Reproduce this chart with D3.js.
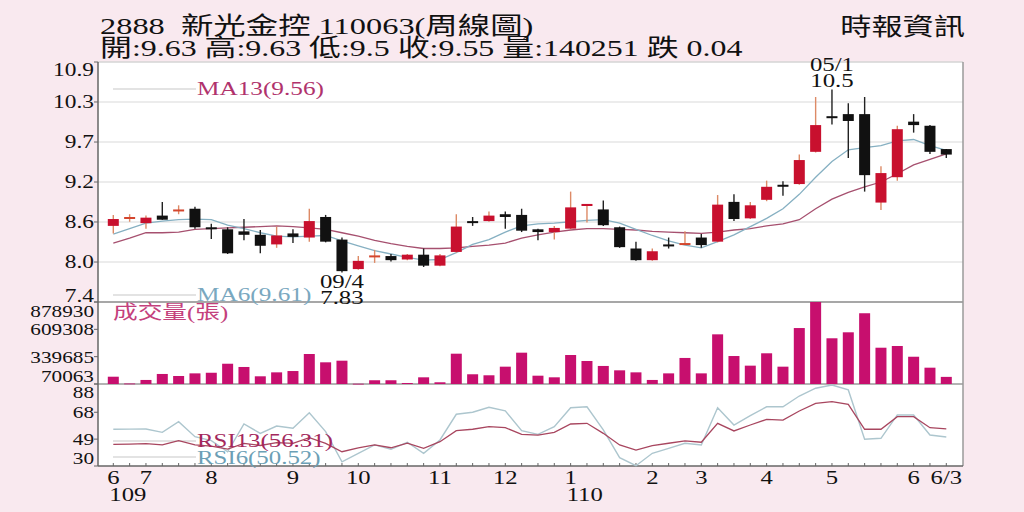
<!DOCTYPE html>
<html><head><meta charset="utf-8">
<script src="https://cdn.jsdelivr.net/npm/d3@7"></script>
<style>
html,body{margin:0;padding:0;background:#f9e9ef;}
svg{display:block;font-family:'Liberation Serif','DejaVu Serif','Noto Sans CJK TC',serif;}
text{white-space:pre;}
</style>
</head><body>
<svg id="chart" width="1024" height="512"></svg>
<script>
// ---------- DATA (weekly candles, 109/6 .. 110/6/3) ----------
const opens  = [8.51,8.62,8.55,8.66,8.73,8.76,8.48,8.46,8.43,8.38,8.24,8.40,8.34,8.64,8.31,7.88,8.06,8.07,8.02,8.09,7.93,8.13,8.57,8.58,8.68,8.67,8.46,8.42,8.47,8.80,8.75,8.49,8.18,8.01,8.23,8.24,8.34,8.28,8.86,8.62,8.89,9.10,9.12,9.59,10.10,10.14,10.14,8.85,9.22,10.03,9.97,9.63];
const highs  = [8.67,8.68,8.66,8.86,8.81,8.79,8.54,8.49,8.61,8.45,8.50,8.46,8.76,8.67,8.34,8.07,8.16,8.10,8.10,8.18,8.10,8.68,8.64,8.72,8.72,8.76,8.47,8.51,9.01,8.83,8.88,8.50,8.28,8.18,8.34,8.43,8.39,8.96,8.97,8.86,9.17,9.16,9.55,10.39,10.50,10.30,10.39,9.38,9.97,10.14,9.98,9.63];
const lows   = [8.40,8.57,8.47,8.60,8.68,8.47,8.32,8.10,8.30,8.11,8.19,8.26,8.28,8.27,7.83,7.87,7.97,7.99,8.01,7.91,7.92,8.12,8.51,8.57,8.47,8.42,8.30,8.31,8.46,8.56,8.51,8.19,8.00,8.00,8.18,8.23,8.19,8.27,8.58,8.61,8.87,8.95,9.11,9.58,9.99,9.50,9.01,8.74,9.17,9.87,9.56,9.50];
const closes = [8.61,8.63,8.63,8.60,8.74,8.49,8.47,8.11,8.38,8.22,8.37,8.35,8.58,8.28,7.85,8.00,8.07,8.01,8.09,7.93,8.08,8.50,8.56,8.66,8.64,8.44,8.42,8.48,8.78,8.83,8.52,8.20,8.01,8.14,8.22,8.25,8.23,8.82,8.61,8.81,9.08,9.09,9.47,9.98,10.09,10.04,9.25,9.28,9.92,9.98,9.59,9.55];
const volumes = [142000,75000,110000,169000,149000,175000,181000,270000,238000,146000,185000,198000,366000,284000,300000,73000,107000,107000,80000,136000,87000,369000,166000,156000,241000,379000,152000,136000,356000,297000,248000,205000,185000,110000,175000,327000,175000,560000,346000,251000,373000,241000,622000,878930,521000,580000,768000,428000,445000,339000,231000,140251];
const ma6  = [8.39,8.47,8.55,8.58,8.60,8.61,8.60,8.52,8.47,8.41,8.36,8.35,8.36,8.37,8.29,8.22,8.15,8.10,8.05,8.01,8.02,8.12,8.24,8.31,8.42,8.51,8.54,8.55,8.57,8.59,8.60,8.55,8.46,8.37,8.29,8.23,8.19,8.28,8.38,8.50,8.62,8.76,8.97,9.22,9.45,9.62,9.65,9.68,9.75,9.77,9.68,9.61];
const ma13 = [8.26,8.33,8.41,8.41,8.42,8.46,8.47,8.48,8.49,8.50,8.51,8.50,8.48,8.46,8.41,8.36,8.30,8.25,8.21,8.18,8.18,8.19,8.21,8.23,8.26,8.33,8.38,8.42,8.45,8.47,8.47,8.46,8.45,8.43,8.42,8.41,8.40,8.42,8.45,8.47,8.51,8.54,8.60,8.76,8.90,9.00,9.08,9.15,9.27,9.40,9.48,9.56];
const rsi6  = [56.0,56.1,56.2,53.8,61.3,50.7,48.0,40.0,59.7,53.1,58.3,56.7,67.7,54.3,33.0,39.0,44.9,41.8,46.8,39.0,48.4,66.6,68.0,71.5,69.0,55.0,52.4,57.8,71.2,71.9,55.5,35.9,30.2,39.0,42.5,46.1,44.9,71.2,59.0,65.6,71.9,71.9,79.5,85.0,87.3,83.8,48.9,49.6,66.1,66.1,51.9,50.52];
const rsi13 = [45.3,45.5,45.8,44.9,47.9,44.9,44.0,42.0,46.0,44.5,46.5,46.0,50.0,46.0,40.1,42.9,44.9,42.9,46.1,42.5,47.2,55.0,56.0,57.8,57.1,52.4,51.9,53.8,59.7,60.2,53.1,44.9,41.3,44.4,46.1,47.7,46.8,60.2,54.8,59.0,63.0,62.5,68.9,74.3,75.5,73.6,56.0,56.0,64.9,64.9,57.1,56.31];

const monthTickIdx = [0,2,6,11,15,20,24,28,33,36,40,44,49,51];
const monthLabels  = ["6","7","8","9","10","11","12","1","2","3","4","5","6","6/3"];
const yearTickIdx  = [0,28];
const yearLabels   = ["109","110"];
const priceTicks      = [7.4,7.983,8.567,9.15,9.733,10.317,10.9];
const priceTickLabels = ["7.4","8.0","8.6","9.2","9.7","10.3","10.9"];
const volTicks  = [70063,339685,609308,878930];
const rsiTicks  = [30,49,68,88];

const titleText = "2888  新光金控 110063(周線圖)";
const infoText  = "開:9.63 高:9.63 低:9.5 收:9.55 量:140251 跌 0.04";
const sourceText = "時報資訊";

// ---------- LAYOUT ----------
const L = 98, R = 963;
const P = {top:62, bottom:302};
const V = {top:302, bottom:384};
const S = {top:384, bottom:466};
const SX = 1.3;

const svg = d3.select("#chart");
const idx = d3.range(closes.length);

const x = d3.scaleLinear().domain([0, closes.length-1]).range([113.3, 946.3]);
const yP = d3.scaleLinear().domain([7.4, 10.9]).range([P.bottom, P.top]);
const yV = d3.scaleLinear().domain([70063, 878930]).range([V.bottom, V.top]);
const yR = d3.scaleLinear().domain([30, 88]).range([S.bottom, S.top]);

function label(sel, px, py, str, o={}) {
  const t = sel.append("text")
    .attr("transform", `translate(${px},${py}) scale(${o.sx||SX},1)`)
    .attr("text-anchor", o.anchor || "start")
    .attr("font-size", o.size || 18)
    .attr("fill", o.fill || "#111")
    .text(str);
  if (o.dy) t.attr("dy", o.dy);
  return t;
}

// plot background
svg.append("rect").attr("x", L).attr("y", P.top).attr("width", R-L).attr("height", S.bottom-P.top).attr("fill", "#fff");

// price grid
const grid = svg.append("g");
priceTicks.slice(1, -1).forEach(v => {
  grid.append("line").attr("x1", L).attr("x2", R).attr("y1", yP(v)).attr("y2", yP(v))
    .attr("stroke", "#d9d9d9").attr("stroke-width", 1.2);
});

// frame
svg.append("line").attr("x1", L).attr("x2", R).attr("y1", P.top).attr("y2", P.top).attr("stroke", "#d4d4d4").attr("stroke-width", 1.5);
svg.append("line").attr("x1", L).attr("x2", R).attr("y1", P.bottom).attr("y2", P.bottom).attr("stroke", "#8a8a8a").attr("stroke-width", 1.5);
svg.append("line").attr("x1", L).attr("x2", R).attr("y1", V.bottom).attr("y2", V.bottom).attr("stroke", "#9a9a9a").attr("stroke-width", 1.5);
svg.append("line").attr("x1", R).attr("x2", R).attr("y1", P.top).attr("y2", S.bottom).attr("stroke", "#9a9a9a").attr("stroke-width", 1.5);
svg.append("line").attr("x1", L).attr("x2", L).attr("y1", P.top).attr("y2", S.bottom).attr("stroke", "#666").attr("stroke-width", 1.5);
svg.append("line").attr("x1", L).attr("x2", R).attr("y1", S.bottom).attr("y2", S.bottom).attr("stroke", "#666").attr("stroke-width", 1.5);

// y tick labels
function clamp(v, a, b){ return Math.max(a, Math.min(b, v)); }
const yAx = svg.append("g");
priceTicks.forEach((v, i) => {
  yAx.append("line").attr("x1", L-4).attr("x2", L).attr("y1", yP(v)).attr("y2", yP(v)).attr("stroke", "#666");
  label(yAx, 94, clamp(yP(v), P.top+8, P.bottom-6), priceTickLabels[i], {anchor:"end", size:18, dy:"0.35em"});
});
volTicks.forEach(v => {
  yAx.append("line").attr("x1", L-4).attr("x2", L).attr("y1", yV(v)).attr("y2", yV(v)).attr("stroke", "#666");
  label(yAx, 94, clamp(yV(v), V.top+9, V.bottom-8), String(v), {anchor:"end", size:17, sx:1.25, dy:"0.35em"});
});
rsiTicks.forEach(v => {
  yAx.append("line").attr("x1", L-4).attr("x2", L).attr("y1", yR(v)).attr("y2", yR(v)).attr("stroke", "#666");
  label(yAx, 94, clamp(yR(v), S.top+8, S.bottom-8), String(v), {anchor:"end", size:17, sx:1.25, dy:"0.35em"});
});

// x ticks & labels
const xAx = svg.append("g");
idx.forEach(i => {
  xAx.append("line").attr("x1", x(i)).attr("x2", x(i)).attr("y1", S.bottom-3).attr("y2", S.bottom).attr("stroke", "#666");
});
monthTickIdx.forEach((i, k) => label(xAx, x(i), 484, monthLabels[k], {anchor:"middle", size:19}));
yearTickIdx.forEach((i, k) => label(xAx, x(i)-4, 501, yearLabels[k], {anchor:"start", size:19}));

// legend lines (grey leaders)
const leg = svg.append("g");
[89, 295, 441, 457].forEach(yy => {
  leg.append("line").attr("x1", 113).attr("x2", 196).attr("y1", yy).attr("y2", yy).attr("stroke", "#c8c8c8").attr("stroke-width", 1.2);
});

// volume bars
svg.append("g").selectAll("rect").data(idx).join("rect")
  .attr("x", i => x(i) - 5.5).attr("width", 11)
  .attr("y", i => yV(volumes[i])).attr("height", i => Math.max(0.8, V.bottom - yV(volumes[i])))
  .attr("fill", "#c70f6e");

// moving averages
const line = d3.line().x((d, i) => x(i));
svg.append("path").attr("d", line.y(d => yP(d))(ma13)).attr("fill", "none").attr("stroke", "#a6506f").attr("stroke-width", 1.3);
svg.append("path").attr("d", line.y(d => yP(d))(ma6)).attr("fill", "none").attr("stroke", "#86b0c2").attr("stroke-width", 1.3);

// candles
const cg = svg.append("g");
idx.forEach(i => {
  const o = opens[i], c = closes[i], h = highs[i], l = lows[i];
  const up = c >= o;
  const body = up ? "#c8102e" : "#111";
  const wick = up ? "#dd8a66" : "#222";
  cg.append("line").attr("x1", x(i)).attr("x2", x(i)).attr("y1", yP(h)).attr("y2", yP(l))
    .attr("stroke", wick).attr("stroke-width", 1.4);
  const top = yP(Math.max(o, c)), bot = yP(Math.min(o, c));
  const hgt = Math.max(2, bot - top);
  const isDoji = Math.abs(c - o) < 0.015;
  cg.append("rect").attr("x", x(i) - 5.5).attr("width", 11)
    .attr("y", isDoji ? (top + bot) / 2 - 1 : top).attr("height", hgt)
    .attr("fill", isDoji ? (up ? "#d4462e" : "#111") : body);
});

// RSI lines
svg.append("path").attr("d", line.y(d => yR(d))(rsi6)).attr("fill", "none").attr("stroke", "#adc6ce").attr("stroke-width", 1.4);
svg.append("path").attr("d", line.y(d => yR(d))(rsi13)).attr("fill", "none").attr("stroke", "#a8465f").attr("stroke-width", 1.3);

// legends
label(svg, 197, 95, "MA13(9.56)", {size:19, sx:1.33, fill:"#b0326c"});
label(svg, 197, 301, "MA6(9.61)", {size:19, sx:1.33, fill:"#7aa8bf"});
label(svg, 113, 319, "成交量(張)", {size:19, sx:1.3, fill:"#c4407c"});
label(svg, 197, 447, "RSI13(56.31)", {size:18, sx:1.38, fill:"#a4285c"});
label(svg, 197, 464, "RSI6(50.52)", {size:18, sx:1.38, fill:"#6c9fb6"});

// annotations: lowest / highest
const iLow = lows.indexOf(d3.min(lows));
const iHigh = highs.indexOf(d3.max(highs));
label(svg, x(iLow), 288, "09/4", {anchor:"middle", size:18, sx:1.38});
label(svg, x(iLow), 304, d3.min(lows).toFixed(2), {anchor:"middle", size:18, sx:1.38});
label(svg, x(iHigh), 71, "05/1", {anchor:"middle", size:18, sx:1.38});
label(svg, x(iHigh), 87, String(d3.max(highs)), {anchor:"middle", size:18, sx:1.38});

// header
label(svg, 100, 34, titleText, {size:24, sx:1.35, fill:"#111"});
label(svg, 100, 56, infoText, {size:24, sx:1.33, fill:"#111"});
label(svg, 965, 35, sourceText, {anchor:"end", size:24, sx:1.3, fill:"#111"});
</script>
</body></html>
